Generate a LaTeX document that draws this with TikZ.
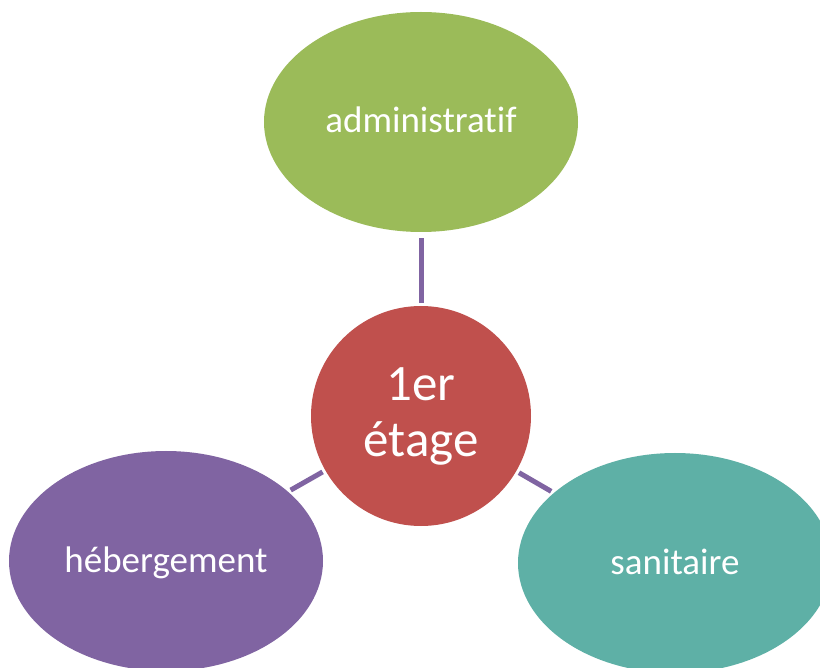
\documentclass[tikz,border=0pt]{standalone}
\usepackage{fontspec}
\setmainfont[Ligatures=NoCommon]{Carlito}
\usetikzlibrary{shapes.geometric}

\definecolor{vertadm}{HTML}{9BBB59}
\definecolor{rougeet}{HTML}{C0504D}
\definecolor{violheb}{HTML}{8064A2}
\definecolor{turqsan}{HTML}{5EB0A6}

\tikzset{
  bulle/.style={ellipse, minimum width=314pt, minimum height=220pt, inner sep=0pt,
    text=white, font=\fontsize{37}{44}\selectfont, text height=28pt, text depth=6pt},
  pastille/.style={circle, fill=rougeet, minimum size=220pt, inner sep=0pt,
    text=white, align=center, font=\fontsize{51}{56}\selectfont},
  lien/.style={draw=violheb, line width=5pt}
}

\begin{document}
\begin{tikzpicture}[x=1pt,y=-1pt]
    \clip (0,0) rectangle (820,668);
    \path[fill=white] (0,0) rectangle (820,668);
    % le centre et les trois pavillons
    \node[pastille] (etage) at (421,416) {1er\\étage};
    \node[bulle, fill=vertadm] (admin) at (421,122) {administratif};
    \node[bulle, fill=violheb] (heberg) at (166,561) {hébergement};
    \node[bulle, fill=turqsan] (sanit) at (675,563) {sanitaire};
    % les liens
    \draw[lien, shorten <=3pt, shorten >=6pt] (etage) -- (admin);
    \draw[lien, shorten <=3pt, shorten >=3pt] (etage) -- (heberg);
    \draw[lien, shorten <=3pt, shorten >=3pt] (etage) -- (sanit);
\end{tikzpicture}
\end{document}
